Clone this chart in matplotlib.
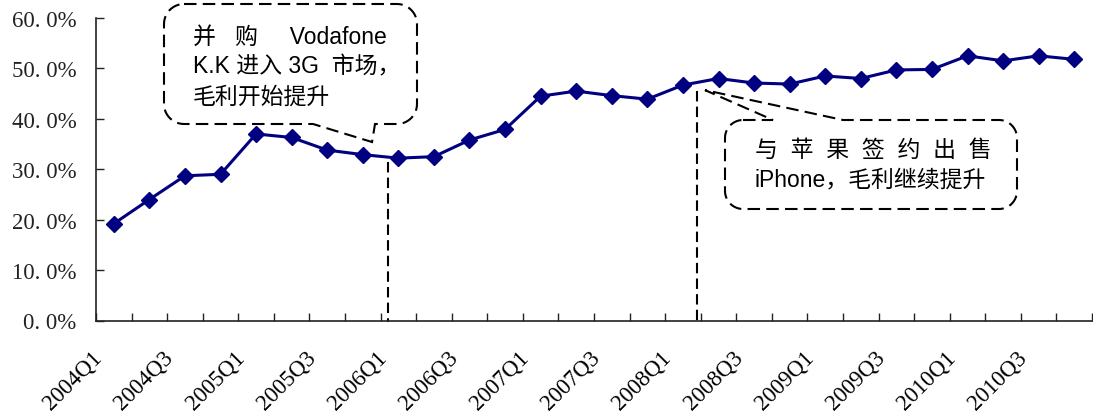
import matplotlib
matplotlib.use('Agg')
import matplotlib.pyplot as plt
from matplotlib.path import Path
from matplotlib.patches import PathPatch
import numpy as np

# 季度毛利率
quarters = ['2004Q1', '2004Q2', '2004Q3', '2004Q4',
            '2005Q1', '2005Q2', '2005Q3', '2005Q4',
            '2006Q1', '2006Q2', '2006Q3', '2006Q4',
            '2007Q1', '2007Q2', '2007Q3', '2007Q4',
            '2008Q1', '2008Q2', '2008Q3', '2008Q4',
            '2009Q1', '2009Q2', '2009Q3', '2009Q4',
            '2010Q1', '2010Q2', '2010Q3', '2010Q4']
gross_margin = [19.2, 24.0, 28.7, 29.0, 37.0, 36.3, 33.8, 32.9,
                32.2, 32.5, 35.8, 37.9, 44.5, 45.5, 44.6, 43.9,
                46.7, 48.0, 47.1, 46.9, 48.5, 48.0, 49.7, 49.8,
                52.5, 51.5, 52.5, 51.8]
y_ticks = [0, 10, 20, 30, 40, 50, 60]

W, H = 1093, 414
fig = plt.figure(figsize=(W / 100, H / 100), dpi=100)
ax = fig.add_axes([96 / W, 1 - 321.5 / H, 996 / W, 302.5 / H])

x = np.arange(len(quarters))
ax.plot(x, gross_margin, color='#000080', lw=2.2, marker='D', ms=8.5,
        mec='#000080', zorder=3, clip_on=False)
ax.set_xlim(-0.5, len(quarters) - 0.5)
ax.set_ylim(0, 60)

for s in ['top', 'right']:
    ax.spines[s].set_visible(False)
for s in ['left', 'bottom']:
    ax.spines[s].set_linewidth(1.2)
    ax.spines[s].set_color('#222222')

tick_font = 'Liberation Serif'
ax.set_yticks(y_ticks)
ax.set_yticklabels([('%.1f%%' % v).replace('.', '. ') for v in y_ticks],
                   family=tick_font)
ax.tick_params(axis='y', direction='in', length=6, width=1, pad=14,
               labelsize=16.5, colors='#222222')

# 刻度线在季度之间, 标签隔季显示 (标签略向左偏)
ax.xaxis.remove_overlapping_locs = False
ax.set_xticks(np.arange(len(quarters) + 1) - 0.5)
ax.tick_params(axis='x', which='major', direction='in', length=6, width=1,
               labelbottom=False, color='#222222')
ax.set_xticks(x[::2] - 0.42, quarters[::2], minor=True)
ax.tick_params(axis='x', which='minor', length=0, pad=24, labelsize=16.5)
for lab in ax.get_xticklabels(minor=True):
    lab.set_family(tick_font)
    lab.set_rotation(45)
    lab.set_ha('right')
    lab.set_va('center')
    lab.set_rotation_mode('anchor')

# 事件竖线
dash_v = (0, (5, 2.5))
ax.plot([7.71, 7.71], [31.4, -0.3], ls=dash_v, color='black', lw=1.5, clip_on=False)
ax.plot([16.39, 16.39], [45.5, 0], ls=dash_v, color='black', lw=1.5, clip_on=False)


def to_px(xd, yd):
    dx, dy = ax.transData.transform((xd, yd))
    return dx, H - dy


def callout(x0, y0, x1, y1, r, side, b0, b1, tip):
    def arc(cx, cy, a0, a1):
        t = np.radians(np.linspace(a0, a1, 14))
        return list(zip(cx + r * np.cos(t), cy + r * np.sin(t)))

    pts = [(x0 + r, y0)]
    if side == 'top':
        pts += [(b0, y0), tip, (b1, y0)]
    pts += arc(x1 - r, y0 + r, -90, 0)
    pts += arc(x1 - r, y1 - r, 0, 90)
    if side == 'bottom':
        pts += [(b1, y1), tip, (b0, y1)]
    pts += arc(x0 + r, y1 - r, 90, 180)
    pts += arc(x0 + r, y0 + r, 180, 270)
    pts = np.array(pts)
    verts = np.column_stack([pts[:, 0] / W, 1 - pts[:, 1] / H])
    patch = PathPatch(Path(verts), transform=fig.transFigure, fill=False,
                      ec='black', lw=1.5, ls=(0, (6, 3)), zorder=5)
    fig.add_artist(patch)


callout(164, 5, 417, 125, 20, 'bottom', 313, 375, to_px(7.26, 35.4))
callout(725, 121, 1017, 210, 18, 'top', 773, 843, to_px(16.62, 45.7))

note_font = ['Liberation Sans', 'Noto Sans CJK SC']


def note(px, py, s):
    fig.text(px / W, 1 - py / H, s, family=note_font, fontsize=16.5,
             ha='left', va='center', color='black')


note(193, 37, '并   购     Vodafone')
note(193, 67, 'K.K 进入 3G  市场，')
note(193, 97, '毛利开始提升')
note(755, 150, '与  苹  果  签  约  出  售')
note(755, 180, 'iPhone，毛利继续提升')

fig.savefig('out.png', dpi=100)
